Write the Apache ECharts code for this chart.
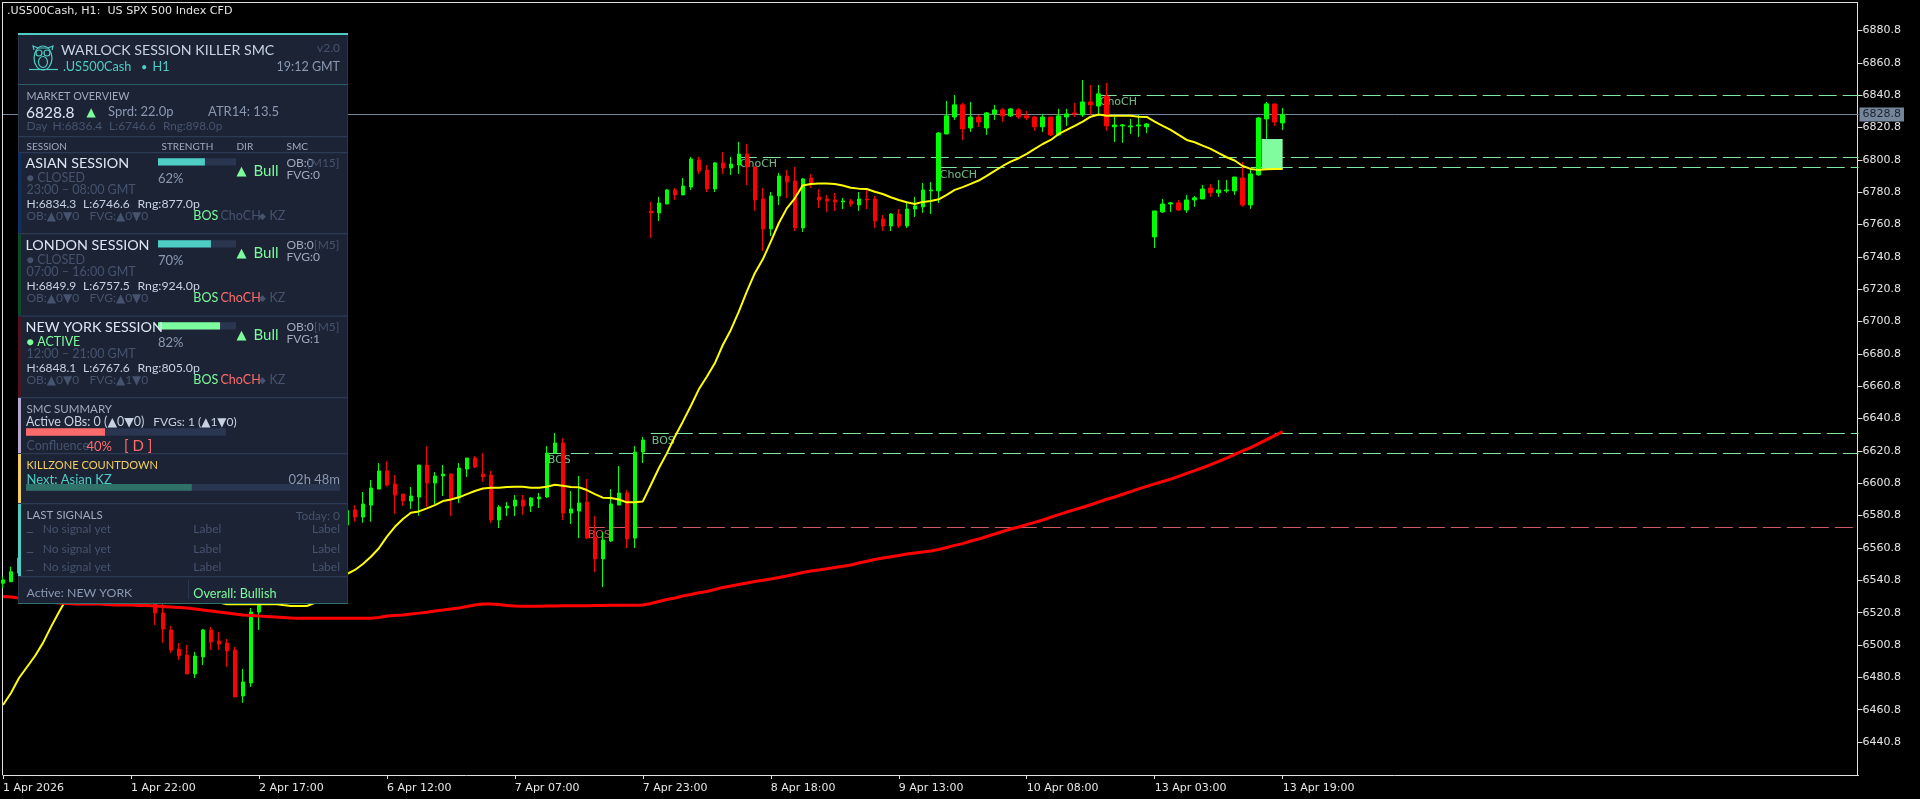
<!DOCTYPE html>
<html><head><meta charset="utf-8">
<style>html,body{margin:0;padding:0;background:#000}#c{width:1920px;height:799px}</style>
<script src="https://cdn.jsdelivr.net/npm/echarts@6/dist/echarts.min.js"></script>
</head><body><div id="c"></div>
<script>
const chartTitle = '.US500Cash, H1:  US SPX 500 Index CFD';
const tickLabels = ['1 Apr 2026','1 Apr 22:00','2 Apr 17:00','6 Apr 12:00','7 Apr 07:00','7 Apr 23:00','8 Apr 18:00','9 Apr 13:00','10 Apr 08:00','13 Apr 03:00','13 Apr 19:00'];
const priceTicks = [6440.8,6460.8,6480.8,6500.8,6520.8,6540.8,6560.8,6580.8,6600.8,6620.8,6640.8,6660.8,6680.8,6700.8,6720.8,6740.8,6760.8,6780.8,6800.8,6820.8,6840.8,6860.8,6880.8];
const bidPrice = 6828.8;
const opens = [
6539,6539.9,6545.3,6554,6562,6558,6566,6572,6568,6575,
6570,6565,6569,6562,6566,6558,6552,6555,6546,6536,
6520.6,6510.1,6498.3,6494.6,6482.9,6493.4,6510.1,6503.3,6502.0,6497.7,
6469.3,6477.3,6521.2,6534,6540,6546,6552,6549,6556,6562,
6558,6566,6572,6575,6584.3,6579.9,6587.3,6597.2,6608.4,6600.3,
6594.1,6589.8,6592.3,6612.1,6600.9,6605.3,6606.5,6591.7,6609.6,6616.4,
6606.5,6605.9,6578.1,6585.5,6586.7,6590.4,6586.7,6591.1,6592.3,6619.5,
6625.7,6582.4,6583.6,6589.2,6567.6,6554.0,6565.1,6587.3,6594.8,6566.9,
6620.1,6769.2,6768.0,6773.5,6782.2,6779.1,6784.0,6800.7,6794.5,6782.8,
6798.9,6795.8,6797.6,6804.4,6796.4,6776.6,6758.1,6778.5,6790.8,6787.7,
6758.7,6789.6,6777.9,6776.6,6776.0,6774.8,6775.4,6772.9,6776.6,6776.6,
6764.2,6759.9,6767.3,6759.9,6770.4,6771.7,6781.6,6781.6,6816.8,6827.3,
6834.8,6820.5,6827.3,6820.5,6829.2,6831.7,6828.0,6831.7,6828.0,6827.3,
6821.2,6827.3,6816.2,6827.3,6829.8,6828.6,6836.6,6834.1,6840.3,6821.2,
6821.8,6821.2,6821.8,6821.2,6753.1,6768.6,6773.5,6774.2,6769.8,6776.0,
6776.6,6783.4,6780.4,6781.6,6781.6,6789.6,6772.9,6791.5,6826.1,6835.4,
6823.6];
const closes = [
6541,6546.1,6554.6,6562,6558,6566,6572,6568,6575,6570,
6565,6569,6562,6566,6558,6552,6555,6546,6536,6520.6,
6510.7,6497.7,6494.0,6482.9,6494.0,6510.1,6502.7,6501.4,6497.1,6468.7,
6477.9,6521.2,6534,6540,6546,6552,6549,6556,6562,6558,
6566,6572,6575,6584,6579.9,6588.0,6597.9,6608.4,6599.7,6593.5,
6589.8,6592.9,6612.1,6600.9,6605.3,6606.5,6591.7,6610.2,6616.4,6610.8,
6604.7,6578.1,6586.1,6586.7,6590.4,6586.7,6591.7,6592.3,6619.5,6625.7,
6582.4,6584.9,6588.6,6566.9,6554.0,6565.7,6588.0,6594.8,6566.3,6620.1,
6627.5,6768.0,6774.1,6782.2,6779.1,6784.6,6801.3,6793.9,6782.8,6798.9,
6795.8,6798.2,6804.4,6796.4,6776.0,6758.1,6778.5,6790.8,6787.1,6758.7,
6789.0,6785.9,6776.0,6775.4,6774.8,6775.4,6773.5,6776.6,6776.0,6763.0,
6759.9,6767.3,6759.9,6770.4,6772.3,6782.2,6782.2,6817.4,6828.0,6834.8,
6819.9,6827.3,6824.2,6829.8,6831.7,6828.0,6832.3,6827.3,6826.7,6821.2,
6827.3,6816.2,6828.0,6829.2,6829.2,6836.6,6834.8,6841.6,6821.8,6822.4,
6822.4,6821.8,6822.4,6823.0,6769.2,6773.5,6774.2,6769.8,6776.0,6777.3,
6782.8,6780.4,6782.2,6782.2,6790.2,6772.9,6792.1,6826.7,6835.4,6824.2,
6828.8];
const highs = [
6543,6549.2,6558,6566,6568,6570,6576,6578,6579,6580,
6574,6572,6571,6569,6568,6561,6558,6557,6548,6538,
6528,6512.6,6502.0,6500.8,6496.5,6510.7,6511.9,6508.8,6504.5,6499.6,
6486.0,6523.7,6538,6544,6549,6556,6557,6560,6566,6566,
6570,6576,6580,6588,6587.3,6595.4,6602.8,6613.3,6614.5,6605.9,
6594.1,6598.5,6612.1,6623.8,6607.7,6612.1,6606.9,6613.3,6616.4,6617.6,
6619.5,6608.4,6587.3,6589.2,6593.5,6593.5,6592.3,6594.8,6623.8,6631.9,
6628.8,6596.0,6605.3,6603.4,6580.5,6570.7,6597.2,6611.5,6596.6,6623.8,
6629.4,6774.8,6777.9,6782.8,6783.4,6789.6,6802.6,6802.6,6797.6,6799.5,
6805.7,6802.6,6811.9,6810.6,6796.4,6783.4,6780.9,6792.7,6794.5,6796.4,
6789.6,6792.1,6782.8,6779.1,6780.3,6777.2,6776.6,6780.9,6782.2,6778.5,
6766.7,6767.9,6770.4,6774.1,6777.9,6786.5,6787.1,6818.0,6837.2,6840.9,
6836.0,6836.6,6828.6,6830.4,6834.8,6832.9,6832.9,6832.9,6831.0,6828.0,
6829.2,6827.3,6832.3,6832.3,6836.0,6850.2,6847.1,6847.1,6848.4,6827.3,
6823.0,6826.1,6828.6,6823.6,6769.2,6776.6,6774.8,6776.0,6779.1,6778.5,
6785.3,6785.9,6788.4,6788.4,6790.2,6799.5,6794.6,6827.3,6836.6,6835.4,
6832.9];
const lows = [
6536,6539.9,6544,6550,6555,6556,6563,6564,6566,6567,
6560,6562,6558,6559,6554,6549,6548,6542,6533,6513.2,
6502.0,6495.9,6491.5,6482.9,6480.4,6488.4,6497.7,6497.7,6487.2,6468.7,
6465.0,6474.8,6510.1,6530,6537,6543,6545,6547,6553,6555,
6555,6563,6569,6572,6577.0,6576.4,6577.0,6597.2,6598.7,6581.8,
6586.7,6584.9,6580.7,6586.3,6588.0,6592.9,6580.5,6588.6,6604.7,6610.2,
6601.6,6576.2,6573.1,6580.5,6580.5,6581.2,6583.0,6585.5,6591.7,6619.5,
6578.1,6575.6,6566.9,6566.3,6545.9,6536.6,6564.5,6587.3,6560.8,6560.8,
6613.3,6752.5,6763.0,6773.5,6776.0,6779.1,6782.2,6792.1,6780.9,6780.9,
6792.1,6791.4,6792.1,6785.2,6769.2,6744.4,6753.7,6772.9,6777.2,6756.8,
6756.2,6783.4,6771.0,6768.6,6769.2,6770.4,6771.7,6769.2,6770.4,6758.7,
6756.8,6756.8,6758.7,6758.7,6765.5,6768.0,6767.3,6774.1,6816.8,6825.5,
6813.1,6818.1,6821.2,6816.2,6825.5,6824.2,6827.3,6826.1,6825.5,6818.7,
6818.1,6815.6,6815.6,6821.8,6827.3,6827.3,6828.6,6828.0,6818.7,6811.9,
6811.3,6816.8,6815.0,6817.4,6746.3,6768.0,6768.6,6769.2,6768.0,6771.7,
6776.6,6777.9,6777.9,6780.4,6779.1,6771.7,6770.5,6790.9,6813.1,6821.8,
6819.3];
const yellowLine = [
6463.7,6471.1,6480.4,6487.2,6494.0,6502.1,6512.0,6521.2,6529.9,6538,
6546,6552,6556,6558,6558,6556,6553,6550,6547,6544,
6541,6538,6535,6533,6531,6529,6528,6527,6526,6526,
6526,6526,6526,6526,6526.2,6525.5,6524.9,6524.9,6524.9,6526.8,
6531.1,6536.1,6540.5,6544.7,6547.2,6550.9,6555.4,6560.6,6567.8,6573.9,
6578.7,6582.6,6583.4,6585.3,6587.3,6589.8,6590.8,6592.1,6594.1,6596.0,
6597.6,6598.1,6598.1,6598.5,6598.7,6598.7,6598.1,6598.1,6598.7,6599.9,
6599.3,6598.5,6598.3,6596.6,6594.1,6591.9,6591.7,6590.8,6589.0,6589.0,
6589.6,6599.7,6610.1,6619.3,6629.6,6638.9,6648.6,6658.9,6666.7,6675.0,
6686.3,6695.6,6706.9,6719.3,6730.7,6739.3,6750.2,6761.6,6770.8,6777.0,
6785.0,6785.9,6786.1,6786.1,6785.9,6784.9,6783.6,6783.0,6782.8,6781.1,
6779.7,6777.7,6776.0,6774.6,6773.5,6774.8,6775.4,6776.4,6779.1,6782.2,
6783.9,6785.9,6788.0,6790.9,6794.0,6797.0,6799.7,6801.8,6804.5,6807.6,
6810.6,6813.1,6816.8,6819.3,6821.8,6824.5,6827.5,6828.8,6828.0,6828.0,
6828.0,6828.0,6827.5,6827.3,6824.5,6821.8,6819.3,6816.2,6813.1,6811.7,
6809.6,6807.6,6804.9,6802.4,6800.4,6797.0,6795.2,6794.6,6795.0,6795.2,
6795.2];
const redLine = [
6530.8,6530.5,6529.9,6529.3,6528.6,6528.0,6527.4,6526.8,6526.5,6526.2,
6526.2,6526.2,6526.2,6525.9,6525.5,6525.5,6525.5,6525.2,6525.2,6524.9,
6524.6,6524.3,6524.0,6523.7,6523.1,6522.4,6521.8,6521.2,6520.6,6520.0,
6519.4,6519.1,6518.7,6518.4,6518.1,6517.8,6517.5,6517.3,6517.3,6517.3,
6517.3,6517.3,6517.3,6517.3,6517.3,6517.3,6517.3,6517.8,6518.7,6519.1,
6519.4,6520.0,6520.5,6521.0,6521.8,6522.4,6523.1,6523.7,6524.6,6525.5,
6526.2,6526.2,6525.9,6525.2,6524.9,6524.7,6524.7,6524.8,6524.9,6524.9,
6525.0,6525.0,6525.1,6525.1,6525.2,6525.2,6525.3,6525.3,6525.4,6525.4,
6525.5,6526.5,6527.7,6528.9,6529.9,6531.1,6532.0,6533.1,6533.9,6535.1,
6536.4,6537.3,6538.2,6539.1,6540.1,6540.8,6541.6,6542.5,6543.5,6544.5,
6545.6,6546.6,6547.2,6547.9,6548.7,6549.5,6550.3,6551.5,6552.6,6553.7,
6554.6,6555.4,6556.1,6557.1,6557.7,6558.3,6558.9,6559.8,6561.1,6562.4,
6563.5,6565.1,6566.3,6567.9,6569.4,6571.0,6572.5,6573.8,6575.2,6576.6,
6578.1,6579.8,6581.4,6583.0,6584.5,6586.0,6587.5,6589.2,6590.9,6592.3,
6594.0,6595.6,6597.3,6598.9,6600.4,6601.9,6603.4,6605.1,6606.9,6608.6,
6610.4,6612.3,6614.4,6616.4,6618.6,6620.8,6622.9,6625.3,6627.8,6630.3,
6632.7];
const levelPrices = [6840.7,6802.4,6796.2,6631.7,6619.3,6573.6];
const levelStarts = [137,92,117,81,68,73];
const levelColors = ['#7DE89A','#7DE89A','#7DE89A','#7DE89A','#7DE89A','#D05A5A'];
const tagTexts = ['BOS','BOS','BOS','ChoCH','ChoCH','ChoCH'];
const tagBars = [68,73,81,92,117,137];
const tagPrices = [6615.2,6568.8,6627.1,6798.2,6791.5,6836.2];
const tagColors = ['#8FE8A8','#E07070','#8FE8A8','#8FE8A8','#8FE8A8','#8FE8A8'];
const fvgBars = [157,160];
const fvgPrices = [6795.2,6813.7];

const sessionNames = ['ASIAN SESSION','LONDON SESSION','NEW YORK SESSION'];
const sessionStatus = ['● CLOSED','● CLOSED','● ACTIVE'];
const sessionHours = ['23:00 – 08:00 GMT','07:00 – 16:00 GMT','12:00 – 21:00 GMT'];
const sessionStrength = [62,70,82];
const sessionHigh = ['H:6834.3','H:6849.9','H:6848.1'];
const sessionLow = ['L:6746.6','L:6757.5','L:6767.6'];
const sessionRange = ['Rng:877.0p','Rng:924.0p','Rng:805.0p'];
const sessionTf = ['[M15]','[M5]','[M5]'];
const sessionFvg = ['FVG:0','FVG:0','FVG:1'];
const sessionFvgDir = ['FVG:▲0▼0','FVG:▲0▼0','FVG:▲1▼0'];
const sessionStripe = ['#12305E','#0E4A2A','#4A1420'];
const signalRows = ['No signal yet','No signal yet','No signal yet'];

const categories = Array.from({length:233},(_,i)=> (i%16===0 && tickLabels[i/16]) ? tickLabels[i/16] : '');

const PF = 'Lato, "Noto Sans", "DejaVu Sans"';
const C = {bg:'#1C2335',line:'#2C3A55',track:'#2A3550',teal:'#4ECDC4',green:'#7CFC9C',red:'#FF6B6B',dim:'#46536E',mid:'#8A98B2',head:'#A2A9BE',lite:'#C6D2E2',white:'#DCE6F2',gold:'#F5CE62'};
const els = [];
const R=(x,y,w,h,fill)=>els.push({type:'rect',silent:true,z:100,shape:{x,y,width:w,height:h},style:{fill}});
const T=(x,y,text,fill,size,align)=>els.push({type:'text',silent:true,z:102,style:{x,y,text,fill,font:size+'px '+PF,align:align||'left',verticalAlign:'middle',textAlign:align||'left',textVerticalAlign:'middle'}});
const BAR=(x,y,w,h,pct,fill)=>{R(x,y,w,h,C.track);R(x,y,w*pct,h,fill);};

// frame lines that the axes do not draw
els.push({type:'rect',silent:true,z:1,shape:{x:2,y:2,width:1,height:773},style:{fill:'#E0E0E0'}});
els.push({type:'rect',silent:true,z:1,shape:{x:2,y:2,width:1856,height:1},style:{fill:'#E0E0E0'}});

// panel body
R(18,33,330,571,C.bg);
R(18,33,330,2,C.teal);
R(18,84,330,1,'#2B5F66');
[136,152,233,315.5,397,453,503,576].forEach(y=>R(18,y,330,1.2,C.line));
R(347.3,35,0.8,568,C.line);
R(18,35,0.8,568,C.line);
R(18,603,330,1,'#2F6E6A');
// stripes
[[152.7,80],[234.2,81],[316.5,80.5],[398,55],[454,49],[504,72]].forEach((s,i)=>R(18,s[0],3,s[1],[sessionStripe[0],sessionStripe[1],sessionStripe[2],'#B5A8CC',C.gold,C.teal][i]));
// owl icon
const owl={stroke:C.teal,lineWidth:1.2,fill:null};
els.push({type:'ellipse',silent:true,z:103,shape:{cx:43,cy:58,rx:9,ry:12},style:owl});
els.push({type:'circle',silent:true,z:103,shape:{cx:39,cy:53,r:3},style:owl});
els.push({type:'circle',silent:true,z:103,shape:{cx:47,cy:53,r:3},style:owl});
els.push({type:'ellipse',silent:true,z:103,shape:{cx:43,cy:62,rx:4.5,ry:5.5},style:owl});
els.push({type:'polyline',silent:true,z:103,shape:{points:[[34,50],[33,46],[38,48],[48,48],[53,46],[52,50]]},style:owl});
els.push({type:'polyline',silent:true,z:103,shape:{points:[[29,69.5],[58,69.5]]},style:owl});
// header
T(61,50.5,'WARLOCK SESSION KILLER SMC',C.lite,14.2);
T(63,67,'.US500Cash',C.teal,12.7);
T(141,67,'•',C.teal,11);
T(152.5,67,'H1',C.teal,12.7);
T(340,48,'v2.0',C.dim,12,'right');
T(340,67,'19:12 GMT',C.mid,12.5,'right');
// market
T(26.5,97,'MARKET OVERVIEW',C.head,10.8);
T(26,112.5,'6828.8',C.white,15.5);
T(86.5,112,'▲',C.green,12);
T(108,112,'Sprd: 22.0p',C.mid,13);
T(208,112,'ATR14: 13.5',C.mid,13);
T(26.5,126,'Day',C.dim,12);
T(52.5,126,'H:6836.4',C.dim,12);
T(109,126,'L:6746.6',C.dim,12);
T(163,126,'Rng:898.0p',C.dim,11.7);
T(26.5,147,'SESSION',C.head,10);
T(161.5,147,'STRENGTH',C.head,10);
T(236.5,147,'DIR',C.head,10);
T(286.5,147,'SMC',C.head,10);
// session rows
sessionNames.forEach((n,i)=>{
  const d=82*i;
  T(25.5,163.7+d,n,C.white,14.3);
  BAR(158,158.2+d,78,7.4,sessionStrength[i]/100*0.97,i===2?C.green:C.teal);
  T(158,179+d,sessionStrength[i]+'%',C.mid,13);
  T(236.5,171+d,'▲',C.green,13);
  T(253.5,171+d,'Bull',C.green,15);
  T(286.5,163.5+d,'OB:0',C.head,12);
  T(339.5,163.5+d,sessionTf[i],C.dim,12,'right');
  T(286.5,175+d,sessionFvg[i],C.head,12);
  T(26.5,177.7+d,sessionStatus[i],i===2?C.green:C.dim,12.5);
  T(26.5,190+d,sessionHours[i],C.dim,12.5);
  T(26.5,204+d,sessionHigh[i],C.lite,12);
  T(83,204+d,sessionLow[i],C.lite,12);
  T(137.5,204+d,sessionRange[i],C.lite,12.3);
  T(26.5,216+d,'OB:▲0▼0',C.dim,12);
  T(89.5,216+d,sessionFvgDir[i],C.dim,12);
  T(193.3,216+d,'BOS',C.green,12.5);
  T(220.5,216+d,'ChoCH',i===0?C.dim:C.red,12.5);
  T(259,216+d,'◆',C.dim,9);
  T(269.5,216+d,'KZ',C.dim,12.5);
});
// smc summary
T(26.5,409.5,'SMC SUMMARY',C.head,11.5);
T(26,422,'Active OBs: 0 (▲0▼0)',C.lite,12.5);
T(153.3,422,'FVGs: 1 (▲1▼0)',C.lite,12);
BAR(26,428.3,200,7.4,0.395,C.red);
T(26.5,446,'Confluence',C.dim,12.5);
T(86.5,447,'40%',C.red,13);
T(124,446.5,'[ D ]',C.red,15);
// killzone
T(26.5,465.7,'KILLZONE COUNTDOWN',C.gold,11.1);
T(26.5,480,'Next: Asian KZ',C.teal,13);
T(340,480,'02h 48m',C.mid,13,'right');
BAR(26,484,314,6.8,0.528,'#2F7068');
els[els.length-1].z=103; els[els.length-2].z=103;
// last signals
T(26.5,515.7,'LAST SIGNALS',C.head,11.5);
T(340,515.7,'Today: 0',C.dim,12,'right');
signalRows.forEach((s,i)=>{
  const y=[529,549,567][i];
  R(26.7,y+3,6.5,1,C.dim);
  T(42.7,y,s,C.dim,12);
  T(193.3,y,'Label',C.dim,12);
  T(340,y,'Label',C.dim,12,'right');
});
// footer
R(188,580,0.9,19,C.line);
T(26.5,593.5,'Active: NEW YORK',C.mid,12.3);
T(193.3,593.5,'Overall: Bullish',C.green,12.7);

const axisColor='#E0E0E0';
const AF='"DejaVu Sans"';
const option={
  backgroundColor:'#000',
  animation:false,
  title:{text:chartTitle,left:7,top:6,padding:0,textStyle:{color:'#E6E6E6',fontFamily:AF,fontSize:11.1,fontWeight:'normal'}},
  graphic:{elements:els},
  grid:{left:2.5,top:2.5,width:1856,height:772.5},
  xAxis:{type:'category',data:categories,boundaryGap:false,
    axisLine:{lineStyle:{color:axisColor,width:1}},
    axisTick:{length:4,interval:(i,v)=>v!=='',lineStyle:{color:axisColor}},
    axisLabel:{interval:(i,v)=>v!=='',align:'left',margin:8,color:'#E6E6E6',fontFamily:AF,fontSize:11,hideOverlap:false},
    splitLine:{show:false}},
  yAxis:{type:'value',position:'right',offset:-1,min:6420.4,max:6898.1,scale:true,
    axisLine:{show:true,lineStyle:{color:axisColor,width:1}},
    axisTick:{show:true,length:5,customValues:priceTicks,lineStyle:{color:axisColor}},
    axisLabel:{margin:5,padding:[2,0,0,0],color:'#E6E6E6',fontFamily:AF,fontSize:11,customValues:priceTicks,formatter:v=>v.toFixed(1)},
    splitLine:{show:false}},
  series:[
    {name:'tags',type:'scatter',z:1,symbolSize:0,silent:true,
      data:tagTexts.map((t,i)=>({value:[tagBars[i],tagPrices[i]],label:{show:true,position:'right',distance:1,formatter:t,color:tagColors[i],fontFamily:AF,fontSize:11}}))},
    {name:'price',type:'candlestick',z:3,barWidth:4,silent:true,
      data:opens.map((o,i)=>[o,closes[i],lows[i],highs[i]]),
      itemStyle:{color:'#00FF00',color0:'#FF0000',borderColor:'#00FF00',borderColor0:'#FF0000',borderColorDoji:'#00FF00',borderWidth:1},
      markLine:{z:1,silent:true,symbol:'none',animation:false,precision:1,
        label:{show:false},
        data:[
          [{coord:[0,bidPrice],lineStyle:{color:'#75869B',width:1,type:'solid'},
            label:{show:true,position:'end',distance:1,formatter:bidPrice.toFixed(1),color:'#1C2430',backgroundColor:'#75869B',padding:[2,3,1,3],fontFamily:AF,fontSize:11}},
           {coord:[232,bidPrice]}],
          ...levelPrices.map((p,i)=>[{coord:[levelStarts[i],p],lineStyle:{color:levelColors[i],width:1,type:[18,6]}},{coord:[232,p]}])
        ]}},
    {name:'fvg',type:'custom',z:4,silent:true,
      data:[[fvgBars[0],fvgPrices[0],fvgBars[1],fvgPrices[1]]],
      renderItem:(p,api)=>{
        const a=api.coord([api.value(0),api.value(1)]),b=api.coord([api.value(2),api.value(3)]);
        const band=api.coord([1,0])[0]-api.coord([0,0])[0];
        const x0=a[0]+band*0.36;
        return {type:'rect',shape:{x:x0,y:b[1],width:b[0]-x0,height:a[1]-b[1]},style:{fill:'#80FC9F'}};
      }},
    {name:'yellow',type:'line',z:5,silent:true,data:yellowLine,showSymbol:false,lineStyle:{color:'#FFFF00',width:2}},
    {name:'red',type:'line',z:5,silent:true,data:redLine,showSymbol:false,lineStyle:{color:'#FF0000',width:3}}
  ]
};
echarts.init(document.getElementById('c'),null,{renderer:'canvas'}).setOption(option);
</script>
</body></html>
